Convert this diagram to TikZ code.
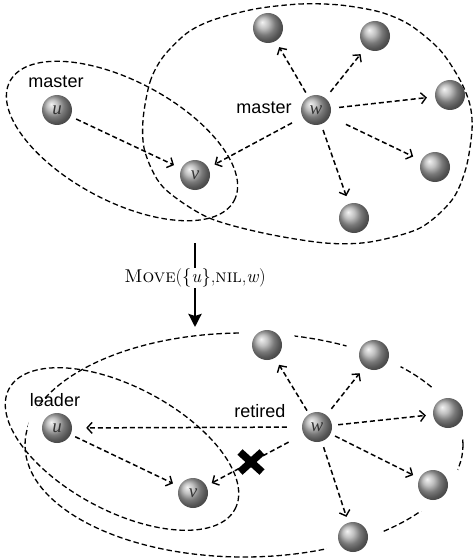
\documentclass[tikz,border=0pt]{standalone}
\usepackage{fontspec}
\newfontfamily\lsans{Liberation Sans}
\newfontfamily\lserif{Liberation Serif}
\usetikzlibrary{arrows.meta}
\begin{document}
\begin{tikzpicture}[x=1pt,y=-1pt,
 ball/.style={circle,minimum size=30pt,inner sep=0pt,shading=ball,ball color=gray!65,font=\lserif\itshape\fontsize{19}{19}\selectfont,text=black!80},
 lbl/.style={font=\lsans\fontsize{18}{20}\selectfont,inner sep=0pt},
 darr/.style={dash pattern=on 5pt off 3pt,line width=1.5pt,-{Straight Barb[length=5pt,width=11pt,line width=1.4pt]}},
 ell/.style={dash pattern=on 5.5pt off 3pt,line width=1.3pt},
 halo/.style={fill=white,draw=none,circle,minimum size=58pt,inner sep=0pt}]
\useasboundingbox (0,0) rectangle (472,559);

% ---------- top part ----------
\draw[ell] plot[smooth cycle] coordinates {(143,120) (150,82) (163,57) (187,33) (213,20) (255,9) (300,4) (340,5) (380,12) (410,25) (440,50) (460,80) (470,105) (472,130) (466,168) (452,200) (420,228) (370,242) (325,243) (263,233) (207,217) (163,187) (145,152)};
\draw[ell, rotate around={-28:(122,141)}] (122,141) ellipse [x radius=127pt, y radius=60pt];

\node[ball] (u1) at (57,110) {u};
\node[ball] (v1) at (195,175) {v};
\node[ball] (w1) at (316,110) {w};
\node[ball] (a1) at (268,28) {};
\node[ball] (a2) at (375,36) {};
\node[ball] (a3) at (450,95) {};
\node[ball] (a4) at (435,167) {};
\node[ball] (a5) at (354,218) {};

\node[lbl] (m1) at (56,82) {master};
\node[lbl] (m2) at (264,108) {master};

\draw[darr, shorten <=6pt, shorten >=8pt] (u1) -- (v1);
\draw[darr, shorten <=12pt, shorten >=7pt] (w1) -- (v1);
\draw[darr, shorten <=5pt, shorten >=7pt] (w1) -- (a1);
\draw[darr, shorten <=8pt, shorten >=8pt] (w1) -- (a2);
\draw[darr, shorten <=8pt, shorten >=8pt] (w1) -- (a3);
\draw[darr, shorten <=18pt, shorten >=9pt] (w1) -- (a4);
\draw[darr, shorten <=6pt, shorten >=8pt] (w1) -- (a5);

% ---------- transition ----------
\coordinate (t1) at (195,243);
\coordinate (t2) at (195,327);
\node[font=\fontsize{18.5}{20}\selectfont, inner sep=1pt] (mv) at (195,278) {\textsc{Move}(\{\textit{u}\},\textsc{nil},\textit{w})};
\draw[line width=2.6pt] (t1) -- (mv);
\draw[line width=2.6pt, -{Stealth[length=13pt,width=13pt,inset=2pt]}] (mv) -- (t2);

% ---------- bottom part ----------
\draw[ell] (244,445) ellipse [x radius=219pt, y radius=112pt];
\node[halo] at (57,428) {};
\node[halo] at (267,345) {};
\node[halo] at (374,355) {};
\node[halo] at (448,413) {};
\node[halo] at (433,485) {};
\node[halo] at (353,537) {};

\draw[ell, rotate around={-28:(122,449)}] (122,449) ellipse [x radius=128pt, y radius=62pt];

\node[ball] (u2) at (57,428) {u};
\node[ball] (v2) at (193,493) {v};
\node[ball] (w2) at (317,427) {w};
\node[ball] (b1) at (267,345) {};
\node[ball] (b2) at (374,355) {};
\node[ball] (b3) at (448,413) {};
\node[ball] (b4) at (433,485) {};
\node[ball] (b5) at (353,537) {};

\node[lbl] (ld) at (55,400) {leader};
\node[lbl] (rt) at (260,411) {retired};

\draw[darr, shorten <=15pt, shorten >=14pt] (w2) -- (u2);
\draw[darr, shorten <=5pt, shorten >=7pt] (u2) -- (v2);
\draw[darr, shorten <=17pt, shorten >=6pt] (w2) -- (v2);
\draw[darr, shorten <=4pt, shorten >=8pt] (w2) -- (b1);
\draw[darr, shorten <=8pt, shorten >=8pt] (w2) -- (b2);
\draw[darr, shorten <=6pt, shorten >=7pt] (w2) -- (b3);
\draw[darr, shorten <=5pt, shorten >=7pt] (w2) -- (b4);
\draw[darr, shorten <=6pt, shorten >=6pt] (w2) -- (b5);

\coordinate (xc) at (251,462);
\draw[line width=7.5pt] (xc) +(-11,-10) -- +(11,10);
\draw[line width=7.5pt] (xc) +(-11,10) -- +(11,-10);
\end{tikzpicture}
\end{document}
